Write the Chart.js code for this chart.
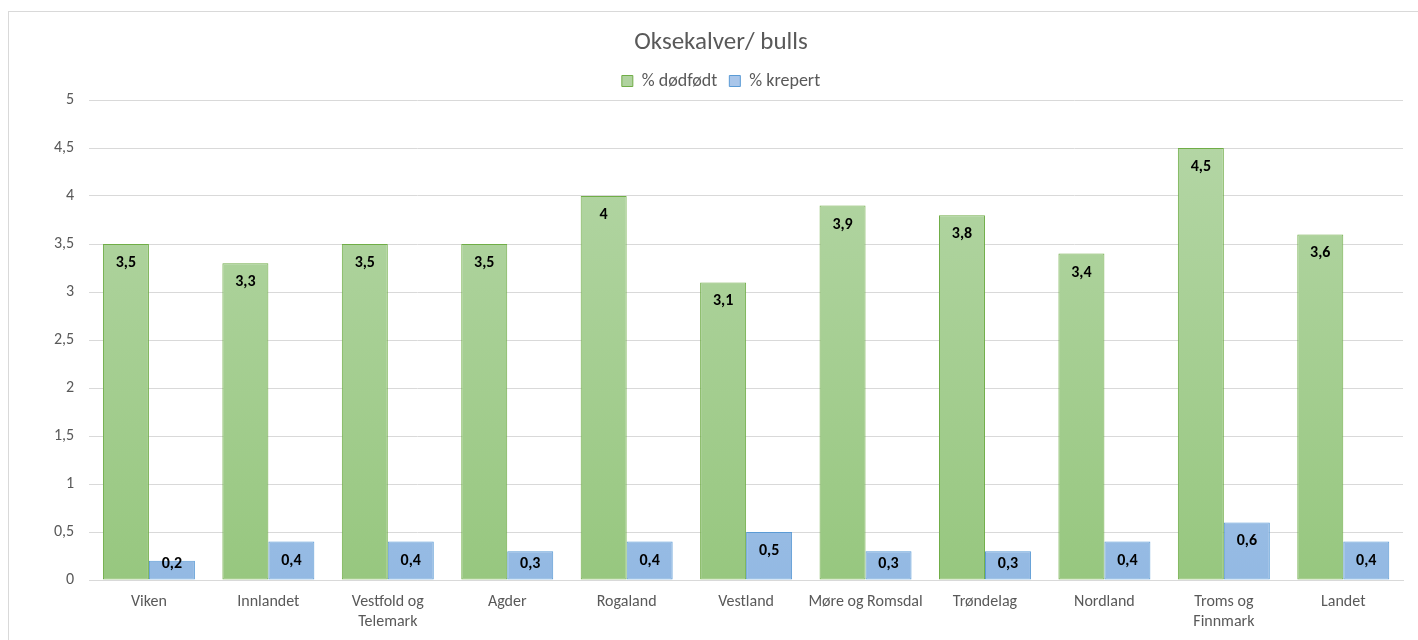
<!DOCTYPE html>
<html>
<head>
<meta charset="utf-8">
<script src="https://cdn.jsdelivr.net/npm/chart.js@4.4.0/dist/chart.umd.min.js"></script>
<style>
  html, body { margin: 0; padding: 0; background: #fff; overflow: hidden; }
  #wrap { position: absolute; left: 8px; top: 11px; width: 1420px; height: 640px; border: 1px solid #d9d9d9; box-sizing: border-box; }
  #wrap canvas { display: block; }
</style>
</head>
<body>
<div id="wrap"><canvas id="barChart" width="1418" height="628"></canvas></div>
<script>
const regions = [
  "Viken", "Innlandet", ["Vestfold og", "Telemark"], "Agder", "Rogaland",
  "Vestland", "Møre og Romsdal", "Trøndelag", "Nordland", ["Troms og", "Finnmark"], "Landet"
];
const stillborn = [3.5, 3.3, 3.5, 3.5, 4, 3.1, 3.9, 3.8, 3.4, 4.5, 3.6];
const died = [0.2, 0.4, 0.4, 0.3, 0.4, 0.5, 0.3, 0.3, 0.4, 0.6, 0.4];
const yTicks = [0, 0.5, 1, 1.5, 2, 2.5, 3, 3.5, 4, 4.5, 5];

const FONT = "Carlito, Lato, 'Liberation Sans', sans-serif";

function gradient(top, bottom) {
  return function (ctx) {
    const area = ctx.chart.chartArea;
    if (!area) return bottom;
    const g = ctx.chart.ctx.createLinearGradient(0, area.top, 0, area.bottom);
    g.addColorStop(0, top);
    g.addColorStop(1, bottom);
    return g;
  };
}

const valueLabels = {
  id: "valueLabels",
  afterDatasetsDraw(chart) {
    const c = chart.ctx;
    const base = chart.scales.y.getPixelForValue(0);
    c.save();
    c.font = "bold 16px " + FONT;
    c.fillStyle = "#000";
    c.textAlign = "center";
    c.textBaseline = "middle";
    chart.data.datasets.forEach((ds, i) => {
      chart.getDatasetMeta(i).data.forEach((bar, j) => {
        const y = Math.min(bar.y + 19, base - 16);
        c.fillText(String(ds.data[j]).replace(".", ","), bar.x, y);
      });
    });
    c.restore();
  }
};

new Chart("barChart", {
  type: "bar",
  data: {
    labels: regions,
    datasets: [
      {
        label: "% dødfødt",
        data: stillborn,
        backgroundColor: gradient("#b6d7a8", "#97c77f"),
        borderColor: "#70ad47",
        borderWidth: 1,
        borderSkipped: false,
      },
      {
        label: "% krepert",
        data: died,
        backgroundColor: gradient("#b9cfea", "#93b9e3"),
        borderColor: "#5b9bd5",
        borderWidth: 1,
        borderSkipped: false,
      },
    ],
  },
  options: {
    responsive: false,
    animation: false,
    devicePixelRatio: 1,
    layout: { padding: { left: 30, right: 24, top: 4, bottom: 4 } },
    datasets: { bar: { barPercentage: 1, categoryPercentage: 0.77 } },
    plugins: {
      title: {
        display: true,
        text: "Oksekalver/ bulls",
        color: "#595959",
        font: { family: FONT, size: 25, weight: "normal" },
        padding: { top: 12, bottom: 2 },
      },
      legend: {
        display: true,
        labels: {
          color: "#595959",
          font: { family: FONT, size: 18 },
          boxWidth: 11,
          boxHeight: 11,
          padding: 12,
          generateLabels(chart) {
            return chart.data.datasets.map((ds, i) => ({
              text: ds.label,
              fillStyle: i === 0 ? "#b0d39f" : "#a9c6ea",
              strokeStyle: ds.borderColor,
              lineWidth: 1,
              fontColor: "#595959",
              datasetIndex: i,
            }));
          },
        },
      },
      tooltip: { enabled: false },
    },
    scales: {
      x: {
        grid: { display: false },
        border: { color: "#d9d9d9" },
        ticks: { color: "#595959", font: { family: FONT, size: 16, lineHeight: 1.25 }, maxRotation: 0, autoSkip: false, padding: 4 },
      },
      y: {
        min: 0,
        max: 5,
        afterBuildTicks(axis) { axis.ticks = yTicks.map(v => ({ value: v })); },
        grid: { color: "#d9d9d9", drawTicks: false },
        border: { display: false },
        ticks: {
          color: "#595959",
          font: { family: FONT, size: 16 },
          padding: 15,
          callback: v => String(v).replace(".", ","),
        },
      },
    },
  },
  plugins: [valueLabels],
});
</script>
</body>
</html>
